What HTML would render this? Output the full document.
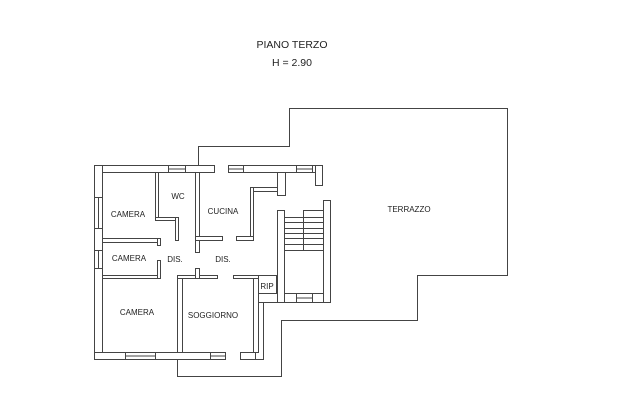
<!DOCTYPE html>
<html><head><meta charset="utf-8"><style>
html,body{margin:0;padding:0;background:#fff;width:627px;height:404px;overflow:hidden}
svg text{font-family:"Liberation Sans",sans-serif;fill:#222}
</style></head><body>
<svg width="627" height="404" viewBox="0 0 627 404" xmlns="http://www.w3.org/2000/svg">
<g fill="none" stroke="#444" stroke-width="1">
<polyline points="198.5,165 198.5,146.5 289.5,146.5 289.5,108.5 507.5,108.5 507.5,275.5 417.5,275.5 417.5,320.5 281.5,320.5 281.5,376.5 177.5,376.5 177.5,359"/>
</g>
<g fill="#fff" stroke="#444" stroke-width="1">
<rect x="94.5" y="165.5" width="120" height="7"/>
<rect x="228.5" y="165.5" width="94" height="7"/>
<rect x="315.5" y="165.5" width="7" height="20"/>
<rect x="94.5" y="165.5" width="8" height="194"/>
<rect x="94.5" y="352.5" width="131" height="7"/>
<rect x="240.5" y="352.5" width="23" height="7"/>
<rect x="255.5" y="293.5" width="8" height="66"/>
<rect x="258.5" y="293.5" width="72" height="9"/>
<rect x="277.5" y="210.5" width="7" height="92"/>
<rect x="323.5" y="200.5" width="7" height="102"/>
<rect x="277.5" y="172.5" width="8" height="23"/>
<rect x="250.5" y="187.5" width="27" height="4"/>
<rect x="250.5" y="187.5" width="3" height="53"/>
<rect x="236.5" y="236.5" width="17" height="4"/>
<rect x="258.5" y="275.5" width="18" height="18" fill="none"/>
<rect x="102.5" y="238.5" width="58" height="4"/>
<rect x="157.5" y="238.5" width="3" height="7"/>
<rect x="102.5" y="275.5" width="58" height="3"/>
<rect x="157.5" y="260.5" width="3" height="18"/>
<rect x="155.5" y="172.5" width="3" height="46"/>
<rect x="155.5" y="217.5" width="23" height="3"/>
<rect x="175.5" y="217.5" width="3" height="23"/>
<rect x="195.5" y="172.5" width="4" height="80"/>
<rect x="195.5" y="236.5" width="27" height="4"/>
<rect x="177.5" y="275.5" width="5" height="77"/>
<rect x="177.5" y="275.5" width="40" height="3"/>
<rect x="195.5" y="268.5" width="4" height="10"/>
<rect x="253.5" y="275.5" width="5" height="77"/>
<rect x="233.5" y="275.5" width="25" height="3"/>
<rect x="94.5" y="197.5" width="8" height="31"/>
<line x1="98.5" y1="197" x2="98.5" y2="229"/>
<rect x="94.5" y="250.5" width="8" height="18"/>
<line x1="98.5" y1="250" x2="98.5" y2="269"/>
<rect x="125.5" y="352.5" width="30" height="7"/>
<line x1="125" y1="356" x2="156" y2="356"/>
<rect x="210.5" y="352.5" width="15" height="7"/>
<line x1="210" y1="356" x2="226" y2="356"/>
<rect x="168.5" y="165.5" width="17" height="7"/>
<line x1="168" y1="169" x2="186" y2="169"/>
<rect x="228.5" y="165.5" width="15" height="7"/>
<line x1="228" y1="169" x2="244" y2="169"/>
<rect x="296.5" y="165.5" width="16" height="7"/>
<line x1="296" y1="169" x2="313" y2="169"/>
<rect x="296.5" y="293.5" width="16" height="9"/>
<line x1="296" y1="298" x2="313" y2="298"/>
</g>
<g stroke="#444" stroke-width="1">
<line x1="303.5" y1="210" x2="303.5" y2="250"/>
<line x1="304" y1="210.5" x2="323" y2="210.5"/>
<line x1="285" y1="217.5" x2="323" y2="217.5"/>
<line x1="285" y1="222.5" x2="323" y2="222.5"/>
<line x1="285" y1="228.5" x2="323" y2="228.5"/>
<line x1="285" y1="233.5" x2="323" y2="233.5"/>
<line x1="285" y1="238.5" x2="323" y2="238.5"/>
<line x1="285" y1="244.5" x2="323" y2="244.5"/>
<line x1="285" y1="250.5" x2="323" y2="250.5"/>
</g>
<text x="292" y="48" font-size="10.5" text-anchor="middle">PIANO TERZO</text>
<text x="292" y="66" font-size="10.5" text-anchor="middle">H = 2.90</text>
<g font-size="8" text-anchor="middle">
<text x="128" y="217">CAMERA</text>
<text x="178" y="199">WC</text>
<text x="223" y="214">CUCINA</text>
<text x="129" y="261">CAMERA</text>
<text x="175" y="262">DIS.</text>
<text x="223" y="262">DIS.</text>
<text x="267" y="289">RIP</text>
<text x="137" y="315">CAMERA</text>
<text x="213" y="318">SOGGIORNO</text>
<text x="409" y="212">TERRAZZO</text>
</g>
</svg>
</body></html>
